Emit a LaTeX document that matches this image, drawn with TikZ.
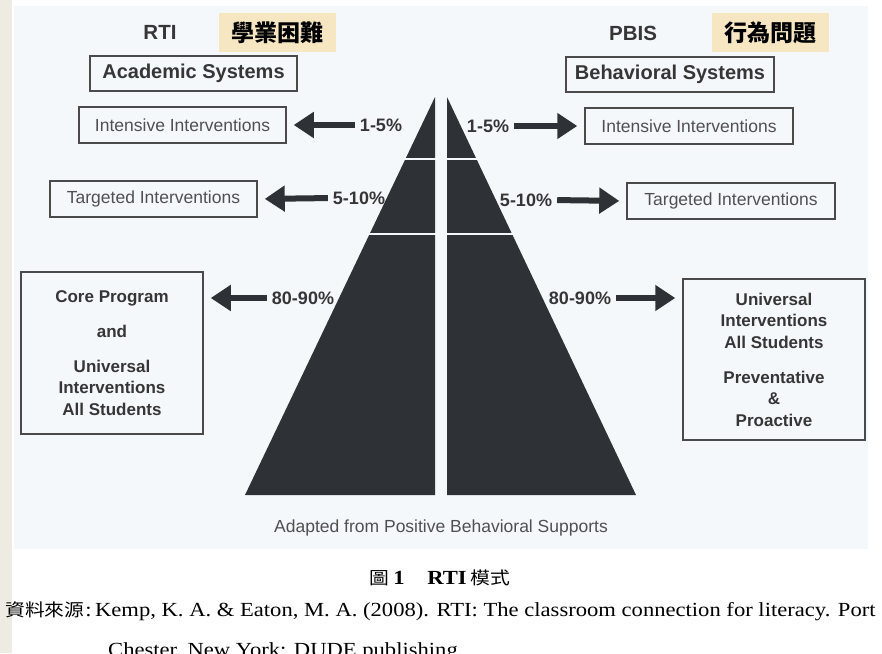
\documentclass[tikz,border=0pt]{standalone}
\usepackage{fontspec}
\setmainfont{Liberation Serif}
\setsansfont{Liberation Sans}
\newfontfamily\cjk{Noto Sans CJK TC}
\usetikzlibrary{arrows.meta}
\definecolor{bgblue}{HTML}{F4F8FA}
\definecolor{beige}{HTML}{EEEBE2}
\definecolor{hlcol}{HTML}{F6E7C2}
\definecolor{pyr}{HTML}{2E3236}
\definecolor{ink}{HTML}{363636}
\definecolor{soft}{HTML}{505050}
\definecolor{boxline}{HTML}{4A4A4A}
\newcommand{\cjks}{\cjk\fontsize{17.5}{24}\selectfont}
\tikzset{
  sysbox/.style={draw=boxline, line width=1.5pt, inner sep=0pt, minimum height=35pt, text=ink,
    font=\sffamily\bfseries\fontsize{20}{24}\selectfont},
  intbox/.style={draw=boxline, line width=1.5pt, inner sep=0pt, minimum width=207pt, minimum height=36pt, text=soft,
    font=\sffamily\fontsize{17.5}{21}\selectfont},
  bigbox/.style={draw=boxline, line width=1.5pt, inner sep=0pt, minimum width=182pt, align=center, text=ink,
    font=\sffamily\bfseries\fontsize{17}{21.5}\selectfont},
  pct/.style={inner sep=0pt, text=ink, font=\sffamily\bfseries\fontsize{18}{21}\selectfont},
  head/.style={inner sep=0pt, text=ink, font=\sffamily\bfseries\fontsize{20.5}{24}\selectfont},
  hl/.style={fill=hlcol, inner sep=0pt, minimum width=117pt, minimum height=39pt,
    font=\cjk\bfseries\fontsize{23}{26}\selectfont},
  arr/.style={draw=pyr, line width=6pt, -{Triangle[length=20pt,width=25pt]}, shorten <=5pt, shorten >=7pt},
  divline/.style={draw=bgblue, line width=2.5pt},
  srcline/.style={inner sep=0pt, xscale=1.13, font=\fontsize{20}{24}\selectfont}
}
\begin{document}
\begin{tikzpicture}[x=1pt,y=-1pt]
\useasboundingbox (0,0) rectangle (882,653);
\fill[white] (0,0) rectangle (882,653);
\fill[beige] (0,0) rectangle (12,653);
\fill[bgblue] (14,6) rectangle (868,549);

% headings
\node[head] (rti) at (160,32) {RTI};
\node[head] (pbis) at (633,33) {PBIS};
\node[hl] (hlL) at (277.5,32.5) {學業困難};
\node[hl] (hlR) at (770.5,32.5) {行為問題};

\node[sysbox, minimum width=207pt] (acad) at (193.5,73.5) {Academic Systems};
\node[sysbox, minimum width=208pt] (behav) at (670,74.5) {Behavioral Systems};

% pyramid
\fill[pyr] (435,97) -- (435,495) -- (245,495) -- cycle;
\fill[pyr] (447,97) -- (636,495) -- (447,495) -- cycle;
\draw[divline] (395,159) -- (490,159);
\draw[divline] (360,234) -- (525,234);

% boxes
\node[intbox] (intL) at (182.5,125) {Intensive Interventions};
\node[intbox, minimum width=208pt] (intR) at (689,126) {Intensive Interventions};
\node[intbox] (tarL) at (153.5,199) {Targeted Interventions};
\node[intbox, minimum width=208pt] (tarR) at (731,201) {Targeted Interventions};
\node[bigbox, minimum height=162pt] (coreL) at (112,353)
  {Core Program\\[13.5pt]and\\[13.5pt]Universal\\Interventions\\All Students};
\node[bigbox, minimum height=161pt] (univR) at (774,359.5)
  {Universal\\Interventions\\All Students\\[13.5pt]Preventative\\\&\\Proactive};

% percentages
\node[pct] (p1L) at (381,125) {1-5\%};
\node[pct] (p1R) at (488,126) {1-5\%};
\node[pct] (p2L) at (359,198) {5-10\%};
\node[pct] (p2R) at (526,200) {5-10\%};
\node[pct] (p3L) at (303,298) {80-90\%};
\node[pct] (p3R) at (580,298) {80-90\%};

% arrows
\draw[arr] (p1L.west) -- (intL.east);
\draw[arr] (p1R.east) -- (intR.west);
\draw[arr] (p2L.west) -- (tarL.east);
\draw[arr] (p2R.east) -- (tarR.west);
\draw[arr] (p3L.west) -- (p3L.west -| coreL.east);
\draw[arr] (p3R.east) -- (p3R.east -| univR.west);

\node[inner sep=0pt, text=soft, font=\sffamily\fontsize{17.5}{21}\selectfont] (adapt) at (441,528)
  {Adapted from Positive Behavioral Supports};

% caption and source
\node[srcline, anchor=base] (cap) at (440,584)
  {{\cjks 圖}\,\textbf{1}\quad\textbf{RTI}\,{\cjks 模式}};
\node[srcline, anchor=base west] (cite1) at (5,616)
  {{\cjks 資料來源}\kern1pt:\kern3pt Kemp, K. A. \& Eaton, M. A. (2008). RTI: The classroom connection for literacy. Port};
\node[srcline, anchor=base west] (cite2) at (108,656)
  {Chester, New York: DUDE publishing.};
\end{tikzpicture}
\end{document}
